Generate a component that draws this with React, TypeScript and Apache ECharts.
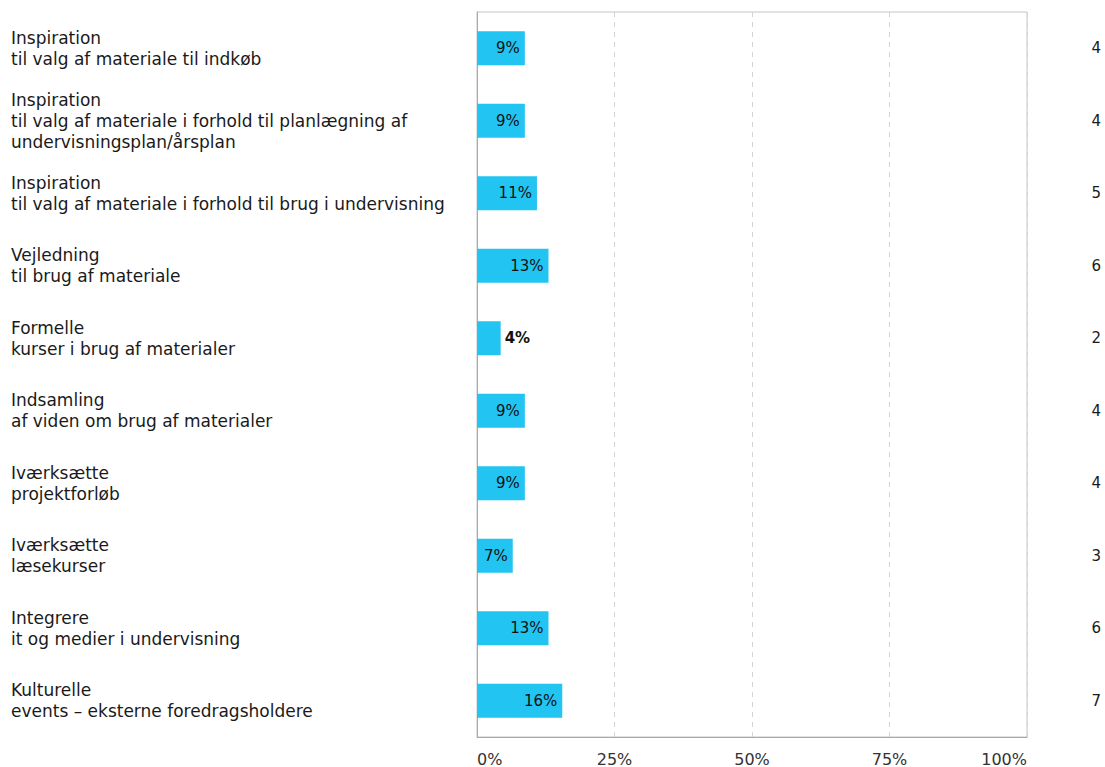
import React, { useEffect, useRef } from "react";
import * as echarts from "echarts";

const categories = [
  "Inspiration\ntil valg af materiale til indkøb",
  "Inspiration\ntil valg af materiale i forhold til planlægning af\nundervisningsplan/årsplan",
  "Inspiration\ntil valg af materiale i forhold til brug i undervisning",
  "Vejledning\ntil brug af materiale",
  "Formelle\nkurser i brug af materialer",
  "Indsamling\naf viden om brug af materialer",
  "Iværksætte\nprojektforløb",
  "Iværksætte\nlæsekurser",
  "Integrere\nit og medier i undervisning",
  "Kulturelle\nevents – eksterne foredragsholdere",
];
const percentValues = [8.7, 8.7, 10.9, 13.0, 4.3, 8.7, 8.7, 6.5, 13.0, 15.5];
const percentLabels = ["9%", "9%", "11%", "13%", "4%", "9%", "9%", "7%", "13%", "16%"];
const counts = ["4", "4", "5", "6", "2", "4", "4", "3", "6", "7"];
const xTicks = [0, 25, 50, 75, 100];

const FONT = "DejaVu Sans";

export default function App() {
  const ref = useRef<HTMLDivElement>(null);
  useEffect(() => {
    if (!ref.current) return;
    const chart = echarts.init(ref.current, undefined, { renderer: "svg" });
    chart.setOption({
      animation: false,
      textStyle: { fontFamily: FONT },
      grid: {
        left: 477,
        right: 78,
        top: 12,
        bottom: 29,
        show: true,
        borderColor: "#c4c4c4",
        borderWidth: 1,
        containLabel: false,
      },
      xAxis: {
        type: "value",
        min: xTicks[0],
        max: xTicks[xTicks.length - 1],
        interval: 25,
        axisLine: { show: true, lineStyle: { color: "#aaaaaa" } },
        axisTick: { show: false },
        splitLine: { show: true, lineStyle: { color: "#d4d4d4", type: [5, 5] } },
        axisLabel: {
          formatter: (v: number) => v + "%",
          color: "#333333",
          fontFamily: FONT,
          fontSize: 16,
          margin: 14,
          alignMinLabel: "left",
          alignMaxLabel: "right",
        },
      },
      yAxis: [
        {
          type: "category",
          data: categories,
          inverse: true,
          axisLine: { show: true, lineStyle: { color: "#aaaaaa" } },
          axisTick: { show: false },
          axisLabel: {
            align: "left",
            margin: 466,
            color: "#1a1a1a",
            fontFamily: FONT,
            fontSize: 17,
            lineHeight: 21,
            padding: [4, 0, 0, 0],
          },
        },
        {
          type: "category",
          data: counts,
          inverse: true,
          position: "right",
          axisLine: { show: false },
          axisTick: { show: false },
          axisLabel: {
            align: "right",
            margin: 74,
            color: "#1a1a1a",
            fontFamily: FONT,
            fontSize: 15,
          },
        },
      ],
      series: [
        {
          type: "bar",
          yAxisIndex: 0,
          barWidth: 34,
          itemStyle: { color: "#22c4f2" },
          data: percentValues.map((v, i) => {
            const outside = v < 5;
            return {
              value: v,
              label: {
                show: true,
                position: outside ? "right" : "insideRight",
                distance: outside ? 4 : 5,
                formatter: percentLabels[i],
                color: "#111111",
                fontFamily: FONT,
                fontSize: 15,
                fontWeight: outside ? "bold" : "normal",
              },
            };
          }),
        },
      ],
    });
    return () => chart.dispose();
  }, []);
  return (
    <div
      ref={ref}
      style={{ position: "fixed", left: 0, top: 0, width: 1105, height: 767, background: "#ffffff" }}
    />
  );
}
